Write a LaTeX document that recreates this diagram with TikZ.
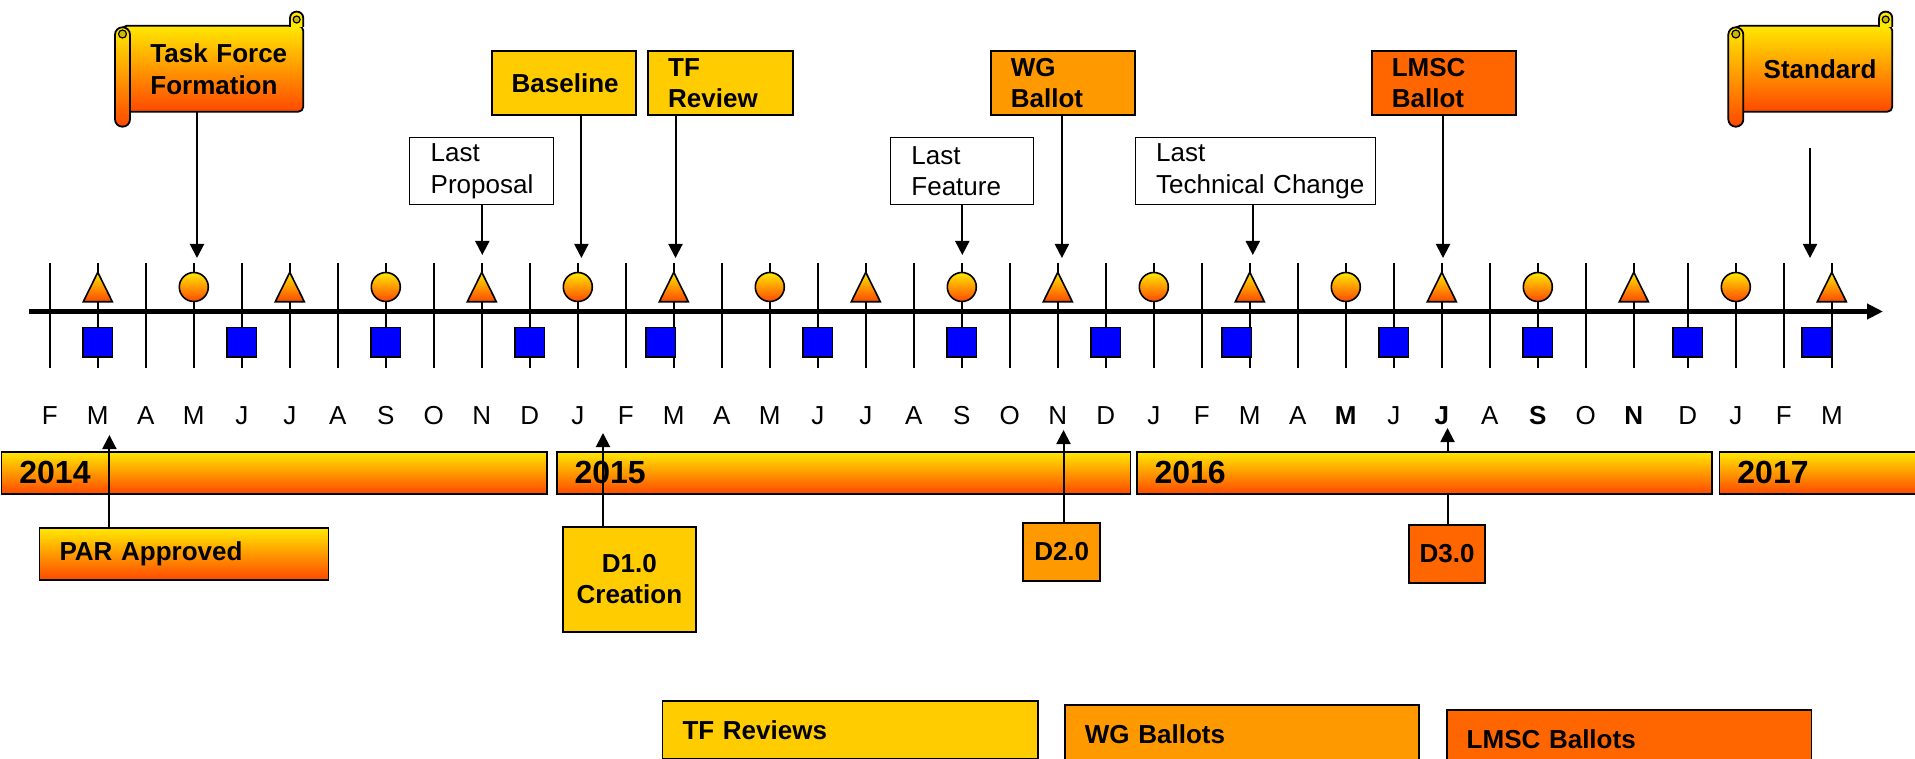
\documentclass[tikz,border=0pt]{standalone}
\usepackage{fontspec}
\setmainfont{Liberation Sans}
\usetikzlibrary{arrows.meta}
\definecolor{gyel}{RGB}{255,232,0}
\definecolor{gred}{RGB}{255,72,0}
\definecolor{tfcol}{RGB}{255,204,0}
\definecolor{wgcol}{RGB}{255,153,0}
\definecolor{lmcol}{RGB}{255,102,0}
\definecolor{curlcol}{RGB}{205,185,0}
\newcommand{\scrollshape}[2]{%
\draw[line width=0.9pt,rounded corners=2.5pt,top color=gyel,bottom color=gred] (#1+7,25.7) rectangle (#2,111.7);
\draw[line width=0.9pt,fill=gyel] (#2-13.3,27) -- (#2-13.3,18.3) .. controls (#2-13.3,9.4) and (#2,9.4) .. (#2,18.3) -- (#2,27);
\filldraw[fill=curlcol,line width=0.6pt] (#2-6.65,19.5) circle (3.5);
\draw[line width=0.9pt,rounded corners=3.7pt,top color=gyel,bottom color=gred] (#1,27.3) rectangle (#1+15,126.7);
\filldraw[fill=curlcol,line width=0.6pt] (#1+7.5,34) circle (4);
}
\begin{document}
\begin{tikzpicture}[x=0.5pt,y=-0.5pt,
  every node/.style={font=\fontsize{13}{15.8}\selectfont},
  box/.style={draw,line width=0.9pt,anchor=north west,inner xsep=10pt,inner ysep=0pt,align=left,font=\fontsize{13}{15.8}\selectfont\bfseries},
  topbox/.style={box,minimum height=32.15pt},
  scrolltext/.style={anchor=north west,inner xsep=10pt,inner ysep=0pt,minimum height=43pt,align=left,font=\fontsize{13}{15.8}\selectfont\bfseries},
  lastbox/.style={draw,line width=0.7pt,fill=white,anchor=north west,inner xsep=10.5pt,inner ysep=0pt,minimum height=33.65pt,align=left},
  yearbar/.style={draw,line width=0.9pt,anchor=north west,inner xsep=9pt,inner ysep=0pt,minimum height=21pt,align=left,top color=gyel,bottom color=gred,font=\fontsize{16}{19}\selectfont\bfseries},
  mk/.style={line width=0.8pt,top color=gyel,bottom color=gred},
  arr/.style={line width=1pt,-{Triangle[length=7pt,width=7pt]}}]
\useasboundingbox (0,0) rectangle (1915,759);
\clip (0,0) rectangle (1915,759);

\foreach \l [count=\i from 0] in {F,M,A,M,J,J,A,S,O,N,D,J,F,M,A,M,J,J,A,S,O,N,D,J,F,M,A,\textbf{M},J,\textbf{J},A,\textbf{S},O,\textbf{N},D,J,F,M} {
	\pgfmathsetmacro\mx{49.8+48*\i+6*(\i>33)}
	\draw[line width=1pt] (\mx,263.3) -- (\mx,367.7);
	\node[anchor=base] (mon\i) at (\mx,424) {\l};
}
\draw[line width=2.3pt,-{Triangle[length=8pt,width=7.5pt]}] (29.4,311.5) -- (1883,311.5);
\foreach \i in {1,5,...,37} {
	\pgfmathsetmacro\mx{49.8+48*\i+6*(\i>33)}
	\draw[mk] (\mx-14.5,301.7) -- (\mx,272.3) -- (\mx+14.5,301.7) -- cycle;
}
\foreach \i in {3,7,...,35} {
	\pgfmathsetmacro\mx{49.8+48*\i+6*(\i>33)}
	\draw[mk] (\mx,287) circle (14.5);
}
\foreach \i/\dx in {1/0,4/0,7/0,10/0,13/-13,16/0,19/0,22/0,25/-13,28/0,31/0,34/0,37/-15} {
	\pgfmathsetmacro\mx{49.8+48*\i+6*(\i>33)+\dx}
	\filldraw[fill=blue,line width=0.8pt] (\mx-14.7,327.3) rectangle (\mx+14.7,356.7);
}

\scrollshape{115}{303.3}
\node[scrolltext,text width=70pt] (tff) at (130,25.7) {Task Force\\Formation};
\scrollshape{1728.3}{1892.3}
\node[scrolltext,text width=56.5pt] (std) at (1743.3,25.7) {Standard};

\node[topbox,fill=tfcol,text width=52.1pt] (bsl) at (490.8,50) {Baseline};
\node[topbox,fill=tfcol,text width=52.5pt] (tfr) at (647.3,50) {TF\\Review};
\node[topbox,fill=wgcol,text width=52.2pt] (wgb) at (990,50) {WG\\Ballot};
\node[topbox,fill=lmcol,text width=52pt] (lmb) at (1370.9,50) {LMSC\\Ballot};
\node[lastbox,text width=51pt] (lpr) at (409,136.7) {Last\\Proposal};
\node[lastbox,text width=50.6pt] (lft) at (889.7,136.7) {Last\\Feature};
\node[lastbox,text width=99.2pt] (ltc) at (1134.5,136.7) {Last\\\mbox{Technical Change}};

\coordinate (tfftip) at (197,258);
\coordinate (lprtip) at (482.3,255);
\coordinate (bsltip) at (581.4,258);
\coordinate (tfrtip) at (675.5,258);
\coordinate (lfttip) at (962.3,255);
\coordinate (wgbtip) at (1061.9,258);
\coordinate (ltctip) at (1252.8,255);
\coordinate (lmbtip) at (1443,258);
\coordinate (stdfoot) at (1810,148.3);
\coordinate (stdtip) at (1810,258);
\draw[arr] (tff.south -| tfftip) -- (tfftip);
\draw[arr] (lpr.south -| lprtip) -- (lprtip);
\draw[arr] (bsl.south -| bsltip) -- (bsltip);
\draw[arr] (tfr.south -| tfrtip) -- (tfrtip);
\draw[arr] (lft.south -| lfttip) -- (lfttip);
\draw[arr] (wgb.south -| wgbtip) -- (wgbtip);
\draw[arr] (ltc.south -| ltctip) -- (ltctip);
\draw[arr] (lmb.south -| lmbtip) -- (lmbtip);
\draw[arr] (stdfoot) -- (stdtip);

\node[box,minimum height=26pt,text width=124.5pt,top color=gyel,bottom color=gred] (par) at (38.6,527.3) {PAR Approved};
\node[box,fill=tfcol,minimum height=52.5pt,inner xsep=4pt,text width=58.7pt,align=center] (d1) at (561.8,525.7) {D1.0\\Creation};
\node[box,fill=wgcol,minimum height=29.15pt,inner xsep=4pt,text width=30.5pt,align=center] (d2) at (1022.3,521.7) {D2.0};
\node[box,fill=lmcol,minimum height=29.15pt,inner xsep=4pt,text width=30.25pt,align=center] (d3) at (1407.9,523.7) {D3.0};
\coordinate (partip) at (109.4,435);
\coordinate (d1tip) at (603,433);
\coordinate (d2tip) at (1063.5,430);
\coordinate (d3tip) at (1447.5,428);
\draw[arr] (d3.north -| d3tip) -- (d3tip);

\node[yearbar,text width=254.75pt] (y2014) at (0.5,451) {2014};
\node[yearbar,text width=268.95pt] (y2015) at (555.7,451) {2015};
\node[yearbar,text width=269.5pt] (y2016) at (1135.7,451) {2016};
\node[yearbar,text width=87pt] (y2017) at (1718.5,451) {2017};
\draw[arr] (par.north -| partip) -- (partip);
\draw[arr] (d1.north -| d1tip) -- (d1tip);
\draw[arr] (d2.north -| d2tip) -- (d2tip);

\node[box,fill=tfcol,minimum height=29pt,text width=167.7pt] (tfs) at (661.6,700) {TF Reviews};
\node[box,fill=wgcol,minimum height=29pt,text width=157.15pt] (wgs) at (1064,704) {WG Ballots};
\node[box,fill=lmcol,minimum height=29pt,text width=162.4pt] (lms) at (1445.8,709) {LMSC Ballots};
\end{tikzpicture}
\end{document}
